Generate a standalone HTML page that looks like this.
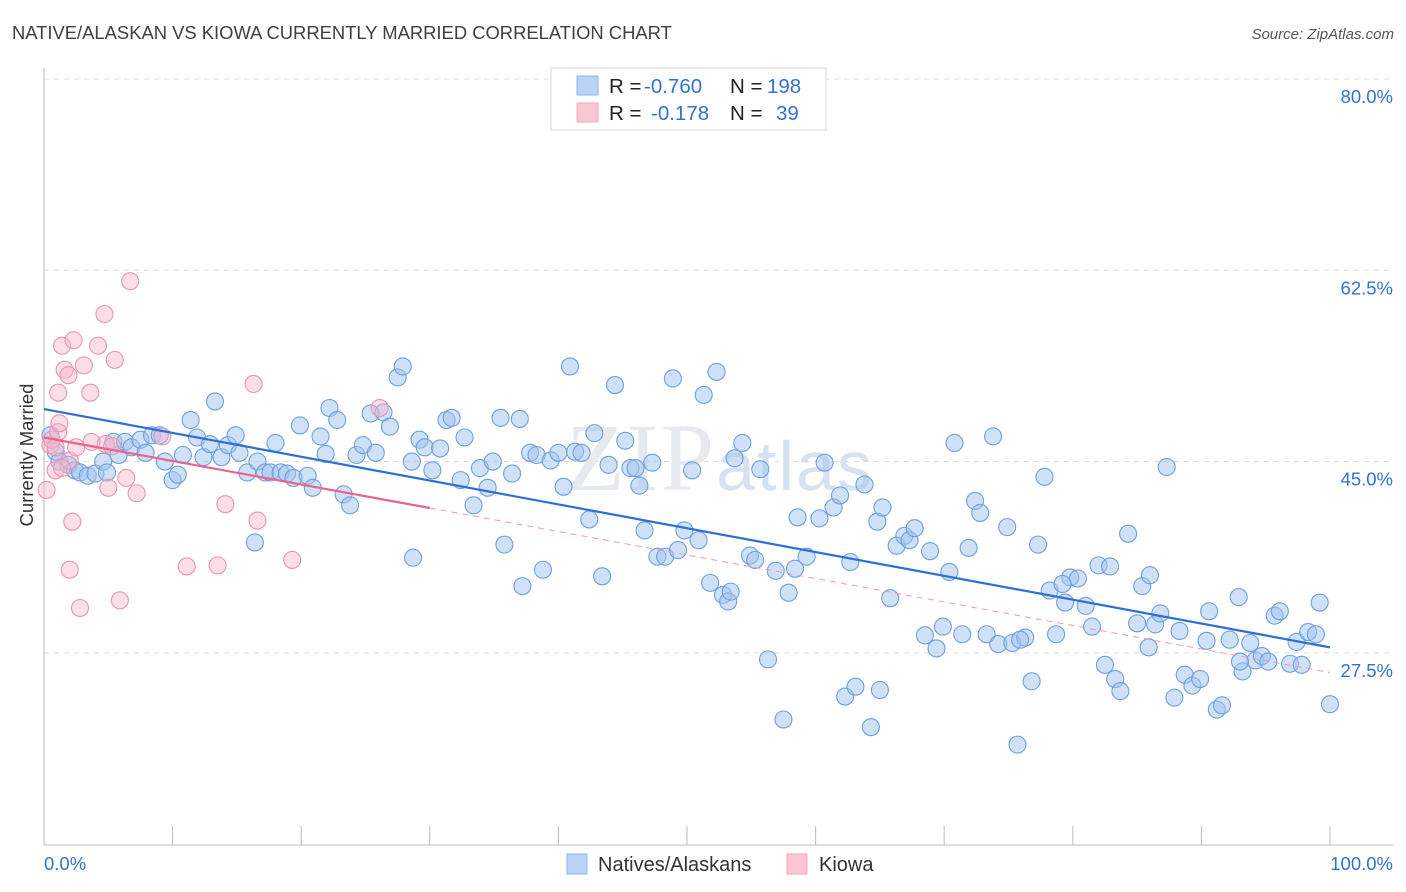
<!DOCTYPE html>
<html><head><meta charset="utf-8">
<style>
html,body{margin:0;padding:0;background:#fff;}
body{width:1406px;height:892px;overflow:hidden;font-family:"Liberation Sans",sans-serif;}
svg{display:block;}
</style></head>
<body>
<svg id="chart" width="1406" height="892" xmlns="http://www.w3.org/2000/svg">
  <text x="12" y="39" font-size="18.4" fill="#404040" font-family="Liberation Sans, sans-serif">NATIVE/ALASKAN VS KIOWA CURRENTLY MARRIED CORRELATION CHART</text>
  <text x="1394" y="39" font-size="15" fill="#555" font-style="italic" text-anchor="end">Source: ZipAtlas.com</text>
  <g id="grid"></g>
  <text x="720" y="490" font-size="96" fill="#e6e9ee" text-anchor="middle" font-family="Liberation Serif, serif" letter-spacing="2">ZIP<tspan font-family="Liberation Sans, sans-serif" font-size="70" fill="#d6e2f2">atlas</tspan></text>
  <g id="axes"></g>
  <g id="pts"></g>
  <g id="lines"></g>
  <text transform="translate(33,455) rotate(-90)" font-size="18.5" fill="#333" text-anchor="middle">Currently Married</text>
  <g>
    <rect x="551" y="68" width="275" height="62" fill="#fff" stroke="#d8d8d8"/>
    <rect x="577" y="76" width="21" height="19" fill="#b8d3f5" stroke="#8fb4e6"/>
    <rect x="577" y="103" width="21" height="19" fill="#f9c6d4" stroke="#eea9bd"/>
    <text x="609" y="93" font-size="20.5" fill="#222">R = <tspan x="644" fill="#3373d0">-0.760</tspan><tspan x="730">N = </tspan><tspan x="767" fill="#3373d0">198</tspan></text>
    <text x="609" y="120" font-size="20.5" fill="#222">R = <tspan x="651" fill="#3373d0">-0.178</tspan><tspan x="730">N = </tspan><tspan x="776" fill="#3373d0">39</tspan></text>
  </g>
  <g>
    <rect x="567" y="854" width="20" height="20" fill="#b8d3f5" stroke="#8fb4e6"/>
    <text x="598" y="871" font-size="20" fill="#333">Natives/Alaskans</text>
    <rect x="787" y="854" width="20" height="20" fill="#f9c6d4" stroke="#eea9bd"/>
    <text x="819" y="871" font-size="20" fill="#333">Kiowa</text>
  </g>
</svg>
<script>
const blueX=[0.5,0.9,1.2,1.9,2.4,2.8,3.4,4.0,4.6,4.9,5.4,5.8,6.3,6.8,7.5,7.9,8.4,9.0,9.4,10.0,10.4,10.8,11.4,11.9,12.4,12.9,13.3,13.8,14.3,14.9,15.2,15.8,16.4,16.6,17.2,17.6,18.0,18.4,18.9,19.4,19.9,20.5,20.9,21.5,21.9,22.2,22.8,23.3,23.8,24.3,24.8,25.4,25.8,26.4,26.9,27.5,27.9,28.7,28.6,29.2,29.6,30.2,30.8,31.3,31.7,32.4,32.7,33.4,33.9,34.5,34.9,35.5,35.8,36.4,37.0,37.2,37.8,38.3,38.8,39.4,40.0,40.4,40.9,41.3,41.8,42.4,42.8,43.4,43.9,44.4,45.2,45.6,46.0,46.3,46.7,47.3,47.7,48.3,48.9,49.3,49.8,50.4,50.9,51.3,51.8,52.3,52.8,53.2,53.4,53.7,54.3,54.9,55.3,55.7,56.3,56.9,57.5,57.9,58.4,58.6,59.3,60.3,60.7,61.4,61.9,62.3,62.7,63.1,63.8,64.3,64.8,65.2,65.8,66.3,66.9,67.3,67.7,68.5,68.9,69.4,69.9,70.4,70.8,71.4,71.9,72.4,72.8,73.3,73.8,74.2,74.9,75.3,75.7,76.3,76.8,77.3,77.8,78.2,78.7,79.4,79.8,80.4,81.0,81.5,82.0,82.5,82.9,83.3,83.7,84.3,85.0,85.4,85.9,86.4,86.8,87.3,87.9,88.3,88.7,89.3,89.9,90.4,90.6,91.2,91.6,92.2,92.9,93.2,93.8,94.2,94.7,95.2,95.7,96.1,96.9,97.4,97.8,98.3,98.9,99.2,100,93.0,86.0,79.2,75.9,65.0];
const blueY=[47.4,45.9,45.0,44.7,44.2,44.0,43.7,43.9,45.0,44.0,46.8,45.6,46.8,46.3,47.0,45.8,47.4,47.4,45.0,43.3,43.8,45.6,48.8,47.2,45.4,46.6,50.5,45.4,46.5,47.4,45.8,44.0,37.6,45.0,44.0,44.0,46.7,44.0,43.9,43.5,48.3,43.7,42.6,47.3,45.7,49.9,48.8,42.0,41.0,45.6,46.5,49.4,45.8,49.5,48.2,52.7,53.7,36.2,45.0,47.0,46.3,44.2,46.2,48.8,49.0,43.3,47.2,41.0,44.4,42.6,45.0,49.0,37.4,43.9,48.9,33.6,45.8,45.6,35.1,45.1,45.8,42.7,53.7,45.9,45.8,39.7,47.6,34.5,44.7,52.0,46.9,44.4,44.4,42.8,38.7,44.9,36.3,36.3,52.6,36.9,38.7,44.2,37.8,51.1,33.9,53.2,32.8,32.2,33.1,45.3,46.7,36.4,36.0,44.3,26.9,35.0,21.4,33.0,35.2,39.9,36.3,39.8,44.9,40.8,41.9,23.5,35.8,24.4,42.9,20.7,39.5,40.8,32.5,37.3,38.2,37.8,38.9,29.1,36.8,27.9,29.9,34.9,46.7,29.2,37.1,41.4,40.3,29.2,47.3,28.3,39.0,28.4,19.1,28.9,24.9,37.4,43.6,33.2,29.2,32.1,34.4,34.3,31.8,29.9,35.5,26.4,35.4,25.1,24.0,38.4,30.2,33.6,28.0,30.1,31.1,44.5,23.4,29.5,25.5,24.5,25.1,28.6,31.3,22.3,22.7,28.7,32.6,25.8,28.4,26.8,27.2,26.7,30.9,31.3,26.5,28.5,26.4,29.4,29.2,32.1,22.8,26.7,34.6,33.8,28.7,24.1];
const pinkX=[0.2,0.5,0.6,0.9,1.1,1.2,1.4,1.1,1.6,1.9,2.0,2.3,2.2,2.0,2.5,2.8,3.1,3.6,3.7,4.2,4.7,4.8,5.0,5.3,5.5,5.9,6.4,6.7,7.2,9.2,11.1,13.5,14.1,16.3,16.6,19.3,26.1,0.9,1.4];
const pinkY=[42.4,46.5,47.0,44.2,47.7,48.5,55.6,51.3,53.4,52.9,45.1,56.1,39.5,35.1,46.3,31.6,53.8,51.3,46.8,55.6,58.5,46.6,42.6,46.4,54.3,32.3,43.5,61.5,42.1,47.3,35.4,35.5,41.1,52.1,39.6,36.0,49.9,46.3,44.4];
const blueTrend=[49.8,28.0];
const pinkTrend=[47.2,25.7];
const pinkSolidEnd=30;
const yTicks=[80,62.5,45,27.5];
const yTickLabels=["80.0%","62.5%","45.0%","27.5%"];
const xTicks=[0,10,20,30,40,50,60,70,80,90,100];

const NS="http://www.w3.org/2000/svg";
const X0=44,X1=1330,Y80=79,PPU=10.93;
const sx=v=>X0+(X1-X0)*v/100;
const sy=v=>Y80+(80-v)*PPU;
function mk(tag,attrs,parent){const e=document.createElementNS(NS,tag);for(const k in attrs)e.setAttribute(k,attrs[k]);parent.appendChild(e);return e;}
const grid=document.getElementById('grid'),axes=document.getElementById('axes'),pts=document.getElementById('pts'),lines=document.getElementById('lines');

yTicks.forEach((t,i)=>{
  const l=mk('line',{x1:X0,x2:1393,y1:sy(t),y2:sy(t),stroke:'#dcdcdc','stroke-dasharray':'5,5'},grid);
  
  
  const tx=mk('text',{x:1393,y:sy(t)+24,'font-size':18.5,fill:'#3373d0','text-anchor':'end'},axes);
  tx.textContent=yTickLabels[i];
  
  
});
const la=mk('line',{x1:X0,x2:X0,y1:68,y2:845,stroke:'#bbb'},axes);


const ba=mk('line',{x1:X0,x2:1393,y1:845,y2:845,stroke:'#bbb'},axes);


xTicks.forEach(t=>{
  const l=mk('line',{x1:sx(t),x2:sx(t),y1:826,y2:845,stroke:'#bbb'},axes);
  
  
});
const xl0=mk('text',{x:44,y:870,'font-size':18.5,fill:'#3373d0'},axes);xl0.textContent='0.0%';


const xl1=mk('text',{x:1393,y:870,'font-size':18.5,fill:'#3373d0','text-anchor':'end'},axes);xl1.textContent='100.0%';



blueX.forEach((x,i)=>{
  const c=mk('circle',{cx:sx(x),cy:sy(blueY[i]),r:8.5,fill:'rgba(160,196,240,0.5)',stroke:'#6f9fe0','stroke-width':1.1},pts);
  
  
});
pinkX.forEach((x,i)=>{
  const c=mk('circle',{cx:sx(x),cy:sy(pinkY[i]),r:8.5,fill:'rgba(246,182,202,0.45)',stroke:'#e996b0','stroke-width':1.1},pts);
  
  
});
const b=mk('line',{x1:sx(0),y1:sy(blueTrend[0]),x2:sx(100),y2:sy(blueTrend[1]),stroke:'#2e6fd6','stroke-width':2.2},lines);


const pe=pinkTrend[0]+(pinkTrend[1]-pinkTrend[0])*pinkSolidEnd/100;
const p1=mk('line',{x1:sx(0),y1:sy(pinkTrend[0]),x2:sx(pinkSolidEnd),y2:sy(pe),stroke:'#e8648c','stroke-width':2.2},lines);


const p2=mk('line',{x1:sx(pinkSolidEnd),y1:sy(pe),x2:sx(100),y2:sy(pinkTrend[1]),stroke:'#eb9ab3','stroke-width':1,'stroke-dasharray':'6,5'},lines);


</script>
</body></html>
